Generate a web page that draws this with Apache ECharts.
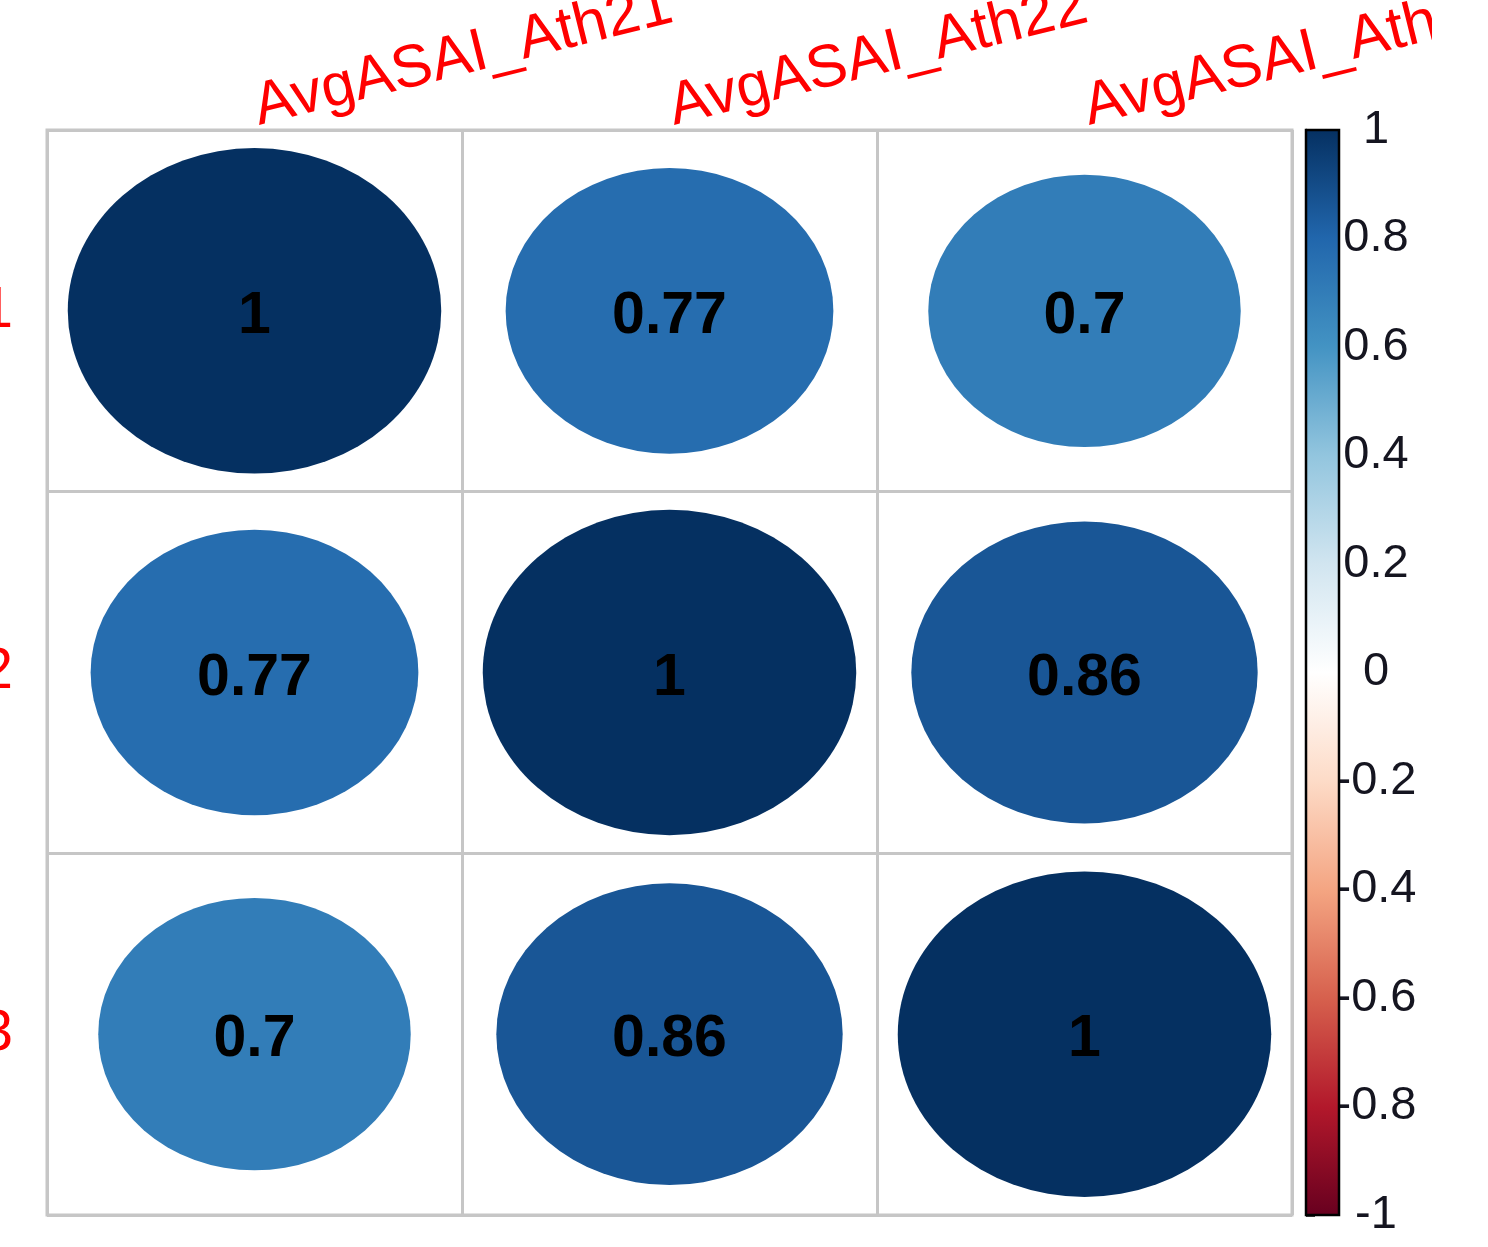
<!DOCTYPE html>
<html>
<head>
<meta charset="utf-8">
<title>AvgASAI correlation</title>
<script src="https://cdn.jsdelivr.net/npm/echarts@6/dist/echarts.min.js"></script>
<style>
  html, body { margin: 0; padding: 0; background: #ffffff; }
  #chart { width: 1432px; height: 1247px; }
</style>
</head>
<body>
<div id="chart"></div>
<script>
// Variables compared in the correlation matrix
const variables = ['AvgASAI_Ath21', 'AvgASAI_Ath22', 'AvgASAI_Ath23'];

// Correlation coefficients, one row per variable
const rowAth21 = [1, 0.77, 0.7];
const rowAth22 = [0.77, 1, 0.86];
const rowAth23 = [0.7, 0.86, 1];

// Colour legend ticks
const colorbarTicks = [-1, -0.8, -0.6, -0.4, -0.2, 0, 0.2, 0.4, 0.6, 0.8, 1];

// Diverging red-white-blue palette, from -1 to 1
const rdbu = ['#67001F', '#B2182B', '#D6604D', '#F4A582', '#FDDBC7', '#FFFFFF',
              '#D1E5F0', '#92C5DE', '#4393C3', '#2166AC', '#053061'];

const matrix = [rowAth21, rowAth22, rowAth23];
const cells = [];
matrix.forEach((row, r) => row.forEach((v, c) => cells.push([c, r, v])));

const gridLine = { color: '#c6c6c6', width: 3 };
const labelFont = '"Liberation Sans", Arial, sans-serif';

const chart = echarts.init(document.getElementById('chart'), null, { renderer: 'canvas' });

chart.setOption({
  backgroundColor: '#ffffff',
  animation: false,
  grid: [
    { left: 47, top: 130, width: 1245, height: 1085, show: true, containLabel: false,
      outerBoundsMode: 'none',
      borderColor: '#c6c6c6', borderWidth: 3, backgroundColor: 'transparent' },
    { left: 1306, top: 130, width: 33, height: 1085, containLabel: false,
      outerBoundsMode: 'none' }
  ],
  xAxis: [
    {
      gridIndex: 0, type: 'category', data: variables, position: 'top',
      axisLine: { show: false }, axisTick: { show: false },
      splitLine: { show: true, interval: 0, lineStyle: gridLine },
      axisLabel: {
        interval: 0, rotate: -14, margin: -10, align: 'left', verticalAlign: 'bottom',
        padding: [0, 0, 0, 8],
        color: '#ff0000', fontSize: 60, fontFamily: labelFont
      }
    },
    { gridIndex: 1, type: 'value', min: 0, max: 1, show: false }
  ],
  yAxis: [
    {
      gridIndex: 0, type: 'category', data: variables, inverse: true,
      axisLine: { show: false }, axisTick: { show: false },
      splitLine: { show: true, interval: 0, lineStyle: gridLine },
      axisLabel: {
        interval: 0, margin: 34, color: '#ff0000', fontSize: 57, fontFamily: labelFont
      }
    },
    {
      gridIndex: 1, type: 'value', min: -1, max: 1, interval: 0.2, position: 'right',
      axisLine: { show: true, lineStyle: { color: '#000', width: 2.5 } },
      axisTick: { show: true, length: 9, customValues: colorbarTicks,
                  lineStyle: { color: '#000', width: 2.5 } },
      splitLine: { show: false },
      axisLabel: {
        customValues: colorbarTicks, margin: 37, align: 'center',
        color: '#151520', fontSize: 47, fontFamily: labelFont,
        formatter: v => String(Math.round(v * 10) / 10)
      }
    }
  ],
  visualMap: {
    show: false, type: 'continuous', min: -1, max: 1, dimension: 2,
    seriesIndex: 0, inRange: { color: rdbu }
  },
  series: [
    {
      // circles whose area is proportional to |r|
      type: 'custom',
      xAxisIndex: 0, yAxisIndex: 0,
      data: cells,
      renderItem: function (params, api) {
        const v = api.value(2);
        const c = api.coord([api.value(0), api.value(1)]);
        const size = api.size([1, 1]);
        const k = 0.9 * Math.sqrt(Math.abs(v));
        const rx = size[0] * k / 2;
        const ry = size[1] * k / 2;
        return {
          type: 'group',
          children: [
            {
              type: 'circle', x: c[0], y: c[1], scaleX: rx / ry, scaleY: 1,
              shape: { cx: 0, cy: 0, r: ry },
              style: { fill: api.visual('color') }
            },
            {
              type: 'text', x: c[0], y: c[1] + 6,
              style: {
                text: String(v), fill: '#000', align: 'center', verticalAlign: 'middle',
                fontSize: 59, fontWeight: 'bold', fontFamily: labelFont
              }
            }
          ]
        };
      }
    },
    {
      // colour legend bar
      type: 'custom',
      xAxisIndex: 1, yAxisIndex: 1,
      data: [[0]],
      renderItem: function (params, api) {
        const p1 = api.coord([0, 1]);
        const p2 = api.coord([1, -1]);
        const stops = rdbu.slice().reverse().map((col, i) => ({ offset: i / (rdbu.length - 1), color: col }));
        return {
          type: 'rect',
          shape: { x: p1[0], y: p1[1], width: p2[0] - p1[0], height: p2[1] - p1[1] },
          style: {
            fill: new echarts.graphic.LinearGradient(0, 0, 0, 1, stops),
            stroke: '#000', lineWidth: 2.5
          }
        };
      }
    }
  ]
});
</script>
</body>
</html>
